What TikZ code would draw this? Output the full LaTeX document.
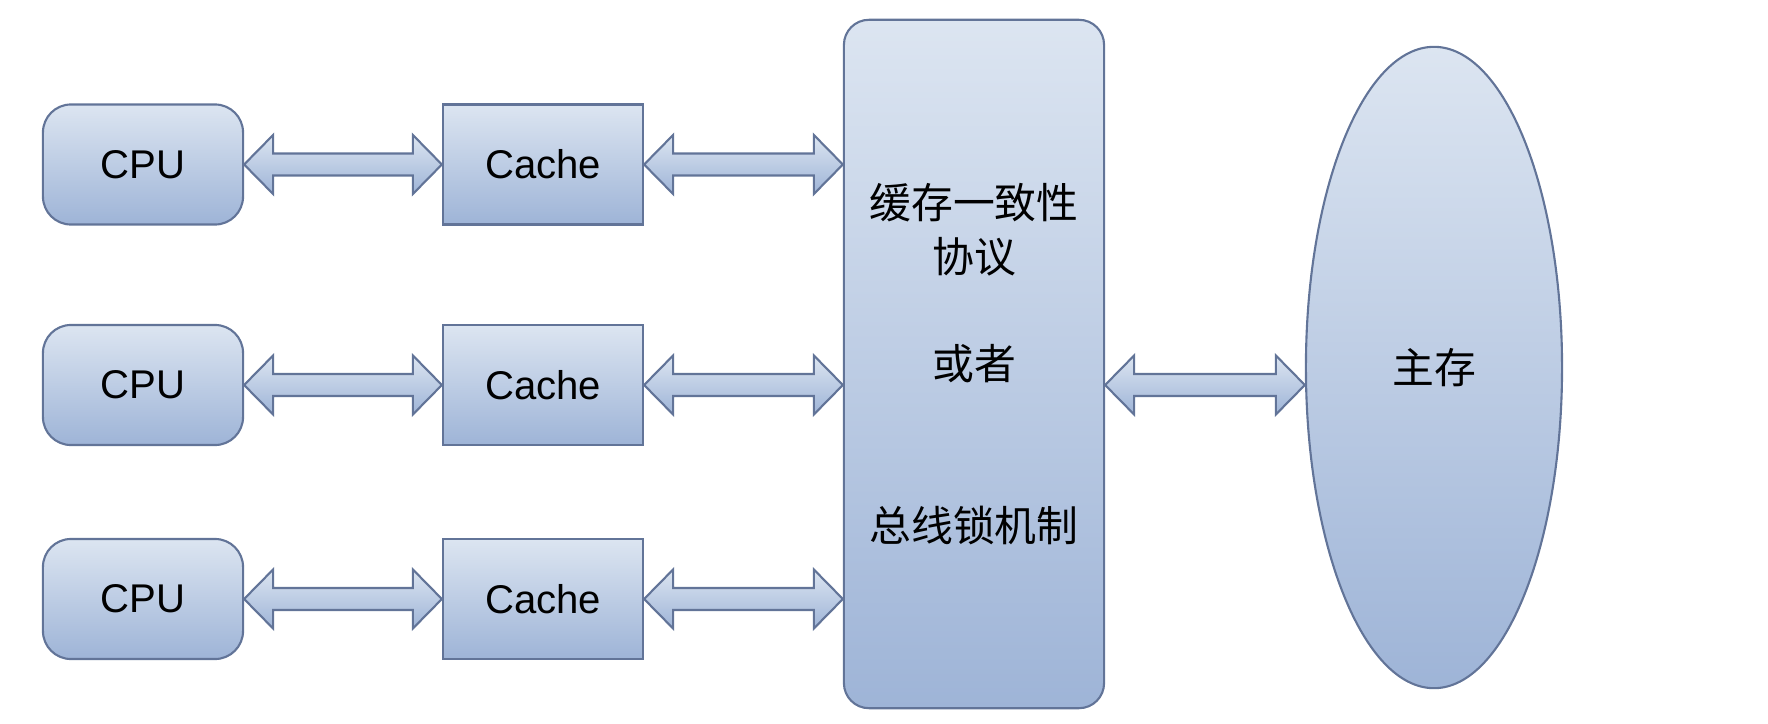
\documentclass[tikz,border=0pt]{standalone}
\usepackage{fontspec}
\setmainfont{Liberation Sans}
\newfontfamily\cjk{Noto Sans CJK SC}
\usepackage{tikz}
\usetikzlibrary{shapes.geometric,calc}
\definecolor{boxtop}{RGB}{220,229,241}
\definecolor{boxbot}{RGB}{158,180,215}
\definecolor{edge}{RGB}{98,116,152}

% double block arrow between two points
\newcommand{\dblarrow}[2]{%
  \draw[blockarrow] (#1) -- ++(29,-29.5) -- ++(0,18.5) -- ($(#2)+(-29,-11)$)
    -- ++(0,-18.5) -- (#2) -- ++(-29,29.5) -- ++(0,-18.5) -- ($(#1)+(29,11)$)
    -- ++(0,18.5) -- cycle;}

\begin{document}
\begin{tikzpicture}[x=0.01cm, y=-0.01cm,
    every node/.style={draw=edge, line width=0.6pt, top color=boxtop, bottom color=boxbot,
      font=\fontsize{11.4pt}{14pt}\selectfont},
    cpu/.style={rectangle, rounded corners=0.28cm, minimum width=2cm, minimum height=1.2cm},
    cache/.style={rectangle, minimum width=2cm, minimum height=1.2cm},
    protocol/.style={rectangle, rounded corners=0.25cm, minimum width=2.6cm, minimum height=6.88cm,
      align=center, font=\cjk\fontsize{11.9pt}{15.3pt}\selectfont},
    memory/.style={ellipse, inner sep=0pt, minimum width=2.56cm, minimum height=6.41cm,
      font=\cjk\fontsize{11.9pt}{15.3pt}\selectfont},
    blockarrow/.style={draw=edge, line width=0.6pt, line join=miter, top color=boxtop, bottom color=boxbot}]
        \useasboundingbox (0, 0) rectangle (1768, 724);
        \draw (143, 164.5) node(cpu1)[cpu]{CPU};
        \draw (543, 164.5) node(cache1)[cache]{Cache};
        \draw (143, 385) node(cpu2)[cpu]{CPU};
        \draw (543, 385) node(cache2)[cache]{Cache};
        \draw (143, 599) node(cpu3)[cpu]{CPU};
        \draw (543, 599) node(cache3)[cache]{Cache};
        \draw (974, 364) node(bus)[protocol]{缓存一致性\\协议\\~\\或者\\~\\~\\总线锁机制};
        \draw (1434, 367.5) node(mem)[memory]{主存};
        \dblarrow{cpu1.east}{cache1.west}
        \dblarrow{cpu2.east}{cache2.west}
        \dblarrow{cpu3.east}{cache3.west}
        \dblarrow{cache1.east}{cache1.east -| bus.west}
        \dblarrow{cache2.east}{cache2.east -| bus.west}
        \dblarrow{cache3.east}{cache3.east -| bus.west}
        \dblarrow{bus.east |- cache2.east}{mem.west |- cache2.east}
    \end{tikzpicture}
\end{document}
